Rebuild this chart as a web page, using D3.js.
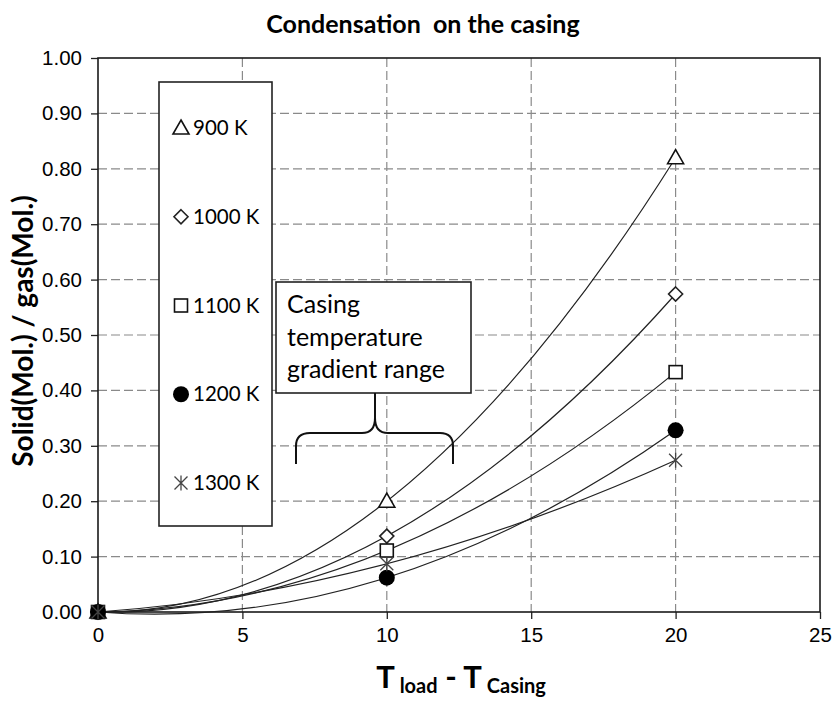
<!DOCTYPE html>
<html>
<head>
<meta charset="utf-8">
<script src="https://cdn.jsdelivr.net/npm/d3@7"></script>
<style>
  body { margin: 0; background: #fff; }
  svg { font-family: Lato, "Open Sans", sans-serif; }
</style>
</head>
<body>
<svg class="chart"></svg>
<script>
// data
const xValues = [0, 10, 20];
const seriesNames = ['900 K', '1000 K', '1100 K', '1200 K', '1300 K'];
const series900 = [0, 0.20, 0.82];
const series1000 = [0, 0.137, 0.574];
const series1100 = [0, 0.111, 0.433];
const series1200 = [0, 0.062, 0.328];
const series1300 = [0, 0.087, 0.274];
const markerTypes = ['triangle', 'diamond', 'square', 'circle', 'star'];
const xTicks = [0, 5, 10, 15, 20, 25];
const yTicks = [0, 0.1, 0.2, 0.3, 0.4, 0.5, 0.6, 0.7, 0.8, 0.9, 1.0];
const noteLines = ['Casing', 'temperature', 'gradient range'];

const allSeries = [series900, series1000, series1100, series1200, series1300];

const width = 833, height = 707;
const marginTop = 58, marginRight = 13, marginBottom = 95, marginLeft = 98;

const svg = d3.select('.chart')
    .attr('width', width)
    .attr('height', height)
    .attr('viewBox', [0, 0, width, height]);

const xScale = d3.scaleLinear([0, 25], [marginLeft, width - marginRight]);
const yScale = d3.scaleLinear([0, 1], [height - marginBottom, marginTop]);

// gridlines
svg.append('g')
    .attr('stroke', '#8a8a8a')
    .attr('stroke-width', 1.2)
    .attr('stroke-dasharray', '9,4')
  .selectAll('line')
  .data(yTicks.slice(1, -1))
  .join('line')
    .attr('x1', marginLeft).attr('x2', width - marginRight)
    .attr('y1', d => yScale(d)).attr('y2', d => yScale(d));

svg.append('g')
    .attr('stroke', '#8a8a8a')
    .attr('stroke-width', 1.2)
    .attr('stroke-dasharray', '9,4')
  .selectAll('line')
  .data(xTicks.slice(1, -1))
  .join('line')
    .attr('x1', d => xScale(d)).attr('x2', d => xScale(d))
    .attr('y1', marginTop).attr('y2', height - marginBottom);

// axes
const xAxis = d3.axisBottom(xScale).tickValues(xTicks).tickSize(7).tickPadding(8).tickFormat(d3.format('d'));
const yAxis = d3.axisLeft(yScale).tickValues(yTicks).tickSize(7).tickPadding(9).tickFormat(d3.format('.2f'));

svg.append('g')
    .attr('transform', `translate(0,${height - marginBottom})`)
    .call(xAxis)
    .call(g => g.select('.domain').remove())
    .call(g => g.selectAll('.tick line').attr('stroke', '#222').attr('stroke-width', 1.3))
    .call(g => g.selectAll('.tick text').attr('font-size', 20.5).attr('fill', '#000').attr('dy', '0.75em'));

svg.append('g')
    .attr('transform', `translate(${marginLeft},0)`)
    .call(yAxis)
    .call(g => g.select('.domain').remove())
    .call(g => g.selectAll('.tick line').attr('stroke', '#222').attr('stroke-width', 1.3))
    .call(g => g.selectAll('.tick text').attr('font-size', 20.5).attr('fill', '#000'));

// frame
svg.append('rect')
    .attr('x', marginLeft).attr('y', marginTop)
    .attr('width', width - marginRight - marginLeft)
    .attr('height', height - marginBottom - marginTop)
    .attr('fill', 'none')
    .attr('stroke', '#1a1a1a')
    .attr('stroke-width', 1.6);

// trend curves: quadratic through the three points of each series
const trend = vals => {
    const p = d3.path();
    const x0 = xScale(xValues[0]), y0 = yScale(vals[0]);
    const x1 = xScale(xValues[1]), y1 = yScale(vals[1]);
    const x2 = xScale(xValues[2]), y2 = yScale(vals[2]);
    p.moveTo(x0, y0);
    p.quadraticCurveTo(2 * x1 - (x0 + x2) / 2, 2 * y1 - (y0 + y2) / 2, x2, y2);
    return p.toString();
};

svg.append('g')
    .attr('fill', 'none')
    .attr('stroke', '#222')
    .attr('stroke-width', 1.2)
  .selectAll('path')
  .data(allSeries)
  .join('path')
    .attr('d', d => trend(d));

// markers
const starPath = s => {
    const r = s / 2;
    return `M${-r},${-r}L${r},${r}M${-r},${r}L${r},${-r}M0,${-r * 1.15}L0,${r * 1.15}`;
};
const drawMarker = (g, type) => {
    if (type === 'triangle') {
        g.append('path').attr('d', 'M0,-8L8,6L-8,6Z')
            .attr('fill', '#fff').attr('stroke', '#111').attr('stroke-width', 1.6);
    } else if (type === 'diamond') {
        g.append('path').attr('d', 'M0,-7L7,0L0,7L-7,0Z')
            .attr('fill', '#fff').attr('stroke', '#222').attr('stroke-width', 1.6);
    } else if (type === 'square') {
        g.append('rect').attr('x', -6.5).attr('y', -6.5).attr('width', 13).attr('height', 13)
            .attr('fill', '#fff').attr('stroke', '#111').attr('stroke-width', 1.6);
    } else if (type === 'circle') {
        g.append('circle').attr('r', 8).attr('fill', '#000');
    } else {
        g.append('path').attr('d', starPath(13))
            .attr('fill', 'none').attr('stroke', '#444').attr('stroke-width', 1.3);
    }
};

allSeries.forEach((vals, si) => {
    vals.forEach((v, i) => {
        const g = svg.append('g')
            .attr('transform', `translate(${xScale(xValues[i])},${yScale(v)})`);
        drawMarker(g, markerTypes[si]);
    });
});

// legend
const legend = svg.append('g');
legend.append('rect')
    .attr('x', 159).attr('y', 82).attr('width', 113).attr('height', 444)
    .attr('fill', '#fff').attr('stroke', '#222').attr('stroke-width', 1.6);
const legendY = d3.scalePoint(seriesNames, [128, 483]);
seriesNames.forEach((name, i) => {
    const g = legend.append('g').attr('transform', `translate(181,${legendY(name)})`);
    drawMarker(g, markerTypes[i]);
    legend.append('text')
        .attr('x', 193).attr('y', legendY(name))
        .attr('dy', '0.35em')
        .attr('font-size', 20.5)
        .attr('fill', '#000')
        .text(name);
});

// annotation box and brace
svg.append('rect')
    .attr('x', 276).attr('y', 282).attr('width', 195).attr('height', 111)
    .attr('fill', '#fff').attr('stroke', '#222').attr('stroke-width', 1.6);
svg.append('g')
  .selectAll('text')
  .data(noteLines)
  .join('text')
    .attr('x', 287)
    .attr('y', (d, i) => 313 + i * 32.5)
    .attr('font-size', 25)
    .attr('fill', '#000')
    .text(d => d);
svg.append('path')
    .attr('d', 'M296,464L296,446Q296,433 310,433L362,433Q375,433 375,418L375,393M375,418Q375,433 388,433L440,433Q453,433 453,446L453,464')
    .attr('fill', 'none')
    .attr('stroke', '#111')
    .attr('stroke-width', 2);

// title and axis labels
svg.append('text')
    .attr('x', 423).attr('y', 33)
    .attr('text-anchor', 'middle')
    .attr('font-size', 25)
    .attr('font-weight', 'bold')
    .attr('fill', '#000')
    .attr('xml:space', 'preserve')
    .text('Condensation  on the casing');

svg.append('text')
    .attr('transform', 'translate(33,331) rotate(-90)')
    .attr('text-anchor', 'middle')
    .attr('font-size', 28)
    .attr('font-weight', 'bold')
    .attr('fill', '#000')
    .text('Solid(Mol.) / gas(Mol.)');

const xLabel = svg.append('text')
    .attr('x', 461).attr('y', 688)
    .attr('text-anchor', 'middle')
    .attr('font-weight', 'bold')
    .attr('fill', '#000');
xLabel.append('tspan').attr('font-size', 31).text('T');
xLabel.append('tspan').attr('font-size', 20).attr('dy', 5).text(' load');
xLabel.append('tspan').attr('font-size', 31).attr('dy', -5).text(' - T');
xLabel.append('tspan').attr('font-size', 20).attr('dy', 5).text(' Casing');
</script>
</body>
</html>
